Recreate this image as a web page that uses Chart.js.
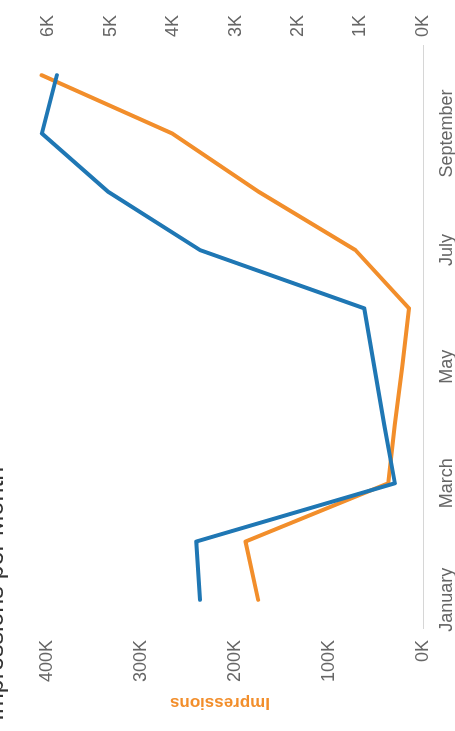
<!DOCTYPE html>
<html>
<head>
<meta charset="utf-8">
<script src="https://cdn.jsdelivr.net/npm/chart.js@4/dist/chart.umd.min.js"></script>
<style>
  html, body { margin: 0; padding: 0; background: #fff; overflow: hidden; width: 455px; height: 731px; }
  /* the chart is laid out landscape and turned a quarter turn to the left */
  #wrap { position: absolute; left: 0; top: 0; width: 731px; height: 455px;
          transform-origin: 0 0; transform: translateY(731px) rotate(-90deg); }
</style>
</head>
<body>
<div id="wrap"><canvas id="c" width="731" height="455"></canvas></div>
<script>
// Monthly values
const months = ['January', 'February', 'March', 'April', 'May', 'June', 'July', 'August', 'September', 'October'];
const monthTickLabels = ['January', 'March', 'May', 'July', 'September'];
const impressions = [175500, 189000, 37000, 30000, 22000, 15000, 72000, 175000, 267000, 406000];
const clicks = [3570, 3630, 450, 620, 780, 940, 3570, 5040, 6100, 5860];
const impressionTicks = [0, 100000, 200000, 300000, 400000];
const clickTicks = [0, 1000, 2000, 3000, 4000, 5000, 6000];

const BLUE = '#1f77b4';
const ORANGE = '#f28e2b';
const kFmt = v => Math.round(v / 1000) + 'K';

// Title and left axis title drawn directly on the canvas
const textLayer = {
  id: 'textLayer',
  afterDraw(chart) {
    const ctx = chart.ctx;
    ctx.save();
    ctx.fillStyle = '#333';
    ctx.font = '25px "Liberation Sans", Arial, sans-serif';
    ctx.textBaseline = 'alphabetic';
    ctx.textAlign = 'left';
    ctx.fillText('Impressions per Month', 10, 3);
    ctx.restore();

    ctx.save();
    ctx.translate(28, 220);
    ctx.rotate(-Math.PI / 2);
    ctx.fillStyle = ORANGE;
    ctx.font = 'bold 17px "Liberation Sans", Arial, sans-serif';
    ctx.textAlign = 'center';
    ctx.textBaseline = 'middle';
    ctx.fillText('Impressions', 0, 0);
    ctx.restore();
  }
};

new Chart(document.getElementById('c'), {
  type: 'line',
  data: {
    labels: months,
    datasets: [
      { label: 'Clicks', data: clicks, yAxisID: 'yClicks', borderColor: BLUE, backgroundColor: BLUE,
        borderWidth: 4, pointRadius: 0, tension: 0, borderCapStyle: 'round', borderJoinStyle: 'round', order: 0 },
      { label: 'Impressions', data: impressions, yAxisID: 'yImp', borderColor: ORANGE, backgroundColor: ORANGE,
        borderWidth: 4, pointRadius: 0, tension: 0, borderCapStyle: 'round', borderJoinStyle: 'round', order: 1 }
    ]
  },
  options: {
    responsive: false,
    devicePixelRatio: 1,
    animation: false,
    layout: { padding: { top: 35, left: 0, right: 0, bottom: 0 } },
    plugins: { legend: { display: false }, tooltip: { enabled: false }, title: { display: false } },
    scales: {
      x: {
        offset: true,
        grid: { display: false, drawTicks: false },
        border: { display: true, color: '#d6d6d6', width: 1 },
        ticks: {
          autoSkip: false, maxRotation: 0, minRotation: 0, padding: 13, color: '#666',
          font: { family: '"Liberation Sans", Arial, sans-serif', size: 18 },
          callback: (v, i) => monthTickLabels.includes(months[i]) ? months[i] : ''
        },
        afterFit: s => { s.height = 32; }
      },
      yImp: {
        position: 'left', min: 0, max: 413000,
        grid: { display: false, drawTicks: false },
        border: { display: false },
        afterBuildTicks: s => { s.ticks = impressionTicks.map(v => ({ value: v })); },
        ticks: { padding: 11, color: '#666', callback: kFmt,
                 font: { family: '"Liberation Sans", Arial, sans-serif', size: 18 } },
        afterFit: s => { s.width = 102; }
      },
      yClicks: {
        position: 'right', min: 0, max: 6210,
        grid: { display: false, drawTicks: false },
        border: { display: false },
        afterBuildTicks: s => { s.ticks = clickTicks.map(v => ({ value: v })); },
        ticks: { padding: 9, color: '#666', callback: kFmt,
                 font: { family: '"Liberation Sans", Arial, sans-serif', size: 18 } },
        afterFit: s => { s.width = 46; }
      }
    }
  },
  plugins: [textLayer]
});
</script>
</body>
</html>
